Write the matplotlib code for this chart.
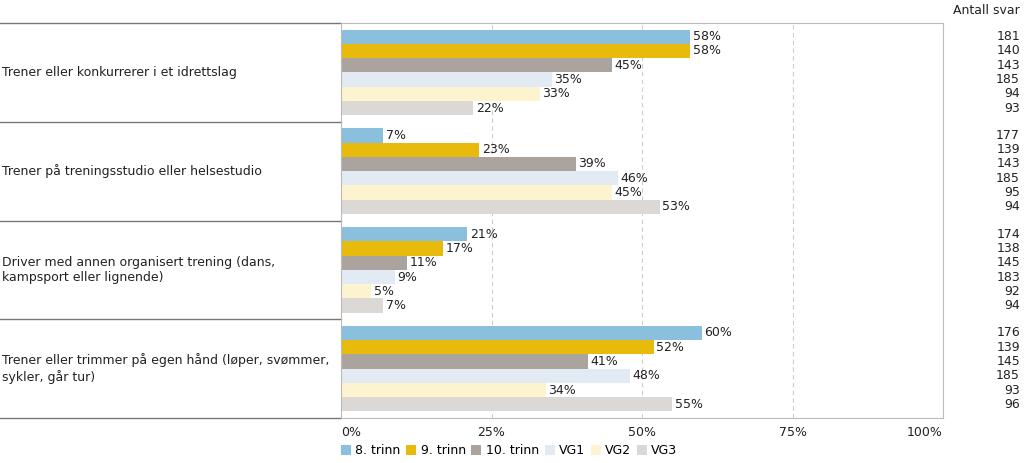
import matplotlib
matplotlib.use("Agg")
import matplotlib.pyplot as plt
import matplotlib.transforms as mtransforms
from matplotlib.patches import Patch

categories = [
    "Trener eller konkurrerer i et idrettslag",
    "Trener på treningsstudio eller helsestudio",
    "Driver med annen organisert trening (dans,\nkampsport eller lignende)",
    "Trener eller trimmer på egen hånd (løper, svømmer,\nsykler, går tur)",
]
series = ["8. trinn", "9. trinn", "10. trinn", "VG1", "VG2", "VG3"]
values = {
    "8. trinn": [58, 7, 21, 60],
    "9. trinn": [58, 23, 17, 52],
    "10. trinn": [45, 39, 11, 41],
    "VG1": [35, 46, 9, 48],
    "VG2": [33, 45, 5, 34],
    "VG3": [22, 53, 7, 55],
}
counts = {
    "8. trinn": [181, 177, 174, 176],
    "9. trinn": [140, 139, 138, 139],
    "10. trinn": [143, 143, 145, 145],
    "VG1": [185, 185, 183, 185],
    "VG2": [94, 95, 92, 93],
    "VG3": [93, 94, 94, 96],
}
xticks = [0, 25, 50, 75, 100]
xticklabels = ["0%", "25%", "50%", "75%", "100%"]
colors = ["#8AC0DE", "#E8BA0C", "#ABA49E", "#E2EBF4", "#FDF4CF", "#DBD8D5"]

W, H = 1024, 463
fig = plt.figure(figsize=(W / 100, H / 100), dpi=100)
ax_l, ax_r, ax_t, ax_b = 341, 943, 23, 418
ax = fig.add_axes([ax_l / W, 1 - ax_b / H, (ax_r - ax_l) / W, (ax_b - ax_t) / H])

n = len(series)
step = 0.1444
bh = 0.144
for k, s in enumerate(series):
    ys = [i + (k - (n - 1) / 2) * step for i in range(len(categories))]
    ax.barh(ys, values[s], height=bh, color=colors[k], zorder=2)
    for y, v, c in zip(ys, values[s], counts[s]):
        ax.text(v + 0.4, y, f"{v}%", va="center", ha="left", fontsize=9, color="#222222", zorder=3)
        ax.annotate(str(c), xy=(1, y), xycoords=("axes fraction", "data"),
                    xytext=(1020 - ax_r, 0), textcoords="offset pixels",
                    ha="right", va="center", fontsize=9, color="#222222", annotation_clip=False)

ax.set_xlim(0, 100)
ax.set_ylim(len(categories) - 0.5, -0.5)
ax.set_yticks([])
ax.set_xticks(xticks)
ax.set_xticklabels(xticklabels, fontsize=9, color="#222222")
labs = ax.get_xticklabels()
labs[0].set_ha("left")
labs[-1].set_ha("right")
ax.tick_params(axis="x", length=0, pad=6)
for x in xticks[1:-1]:
    ax.axvline(x, color="#CCCCCC", linestyle=(0, (4, 3)), linewidth=0.8, zorder=1)
for sp in ax.spines.values():
    sp.set_color("#BBBBBB")
    sp.set_linewidth(0.8)

# category labels and separator lines
trans = mtransforms.blended_transform_factory(ax.transAxes, ax.transData)
left_frac = -ax_l / (ax_r - ax_l)
for i in range(len(categories) + 1):
    ax.plot([left_frac, 0], [i - 0.5, i - 0.5], transform=trans, color="#777777",
            linewidth=1.0, clip_on=False)
for i, c in enumerate(categories):
    ax.text(left_frac + 2 / (ax_r - ax_l), i, c, transform=trans, ha="left", va="center",
            fontsize=9, color="#222222", linespacing=1.25)

fig.text(1020 / W, 1 - 11 / H, "Antall svar", ha="right", va="center", fontsize=9, color="#222222")

handles = [Patch(facecolor=colors[k], edgecolor="none", label=s) for k, s in enumerate(series)]
fig.legend(handles=handles, loc="center left", bbox_to_anchor=(341 / W, 1 - 451 / H), ncol=6,
           frameon=False, fontsize=9, handlelength=0.8, handleheight=0.8, handletextpad=0.35,
           columnspacing=0.45, borderpad=0, borderaxespad=0)

fig.savefig("out.png", dpi=100)
